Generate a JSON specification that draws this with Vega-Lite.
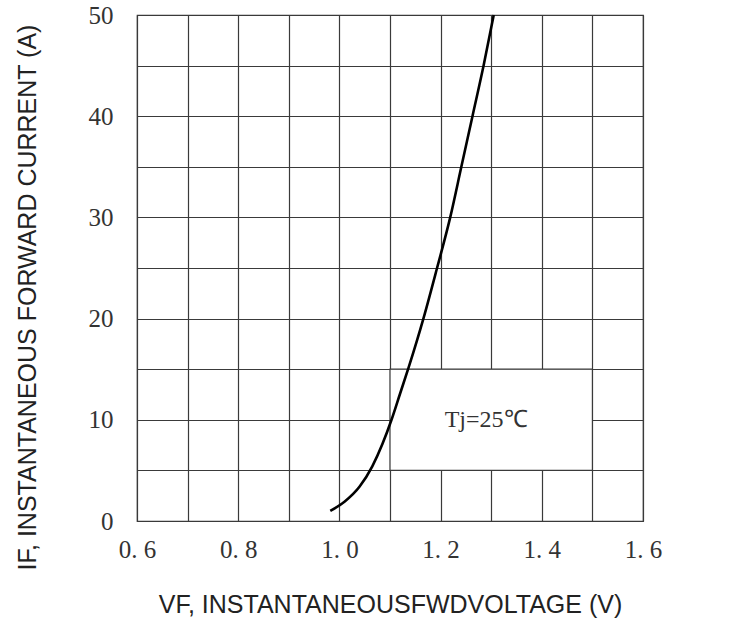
{
  "$schema": "https://vega.github.io/schema/vega-lite/v6.json",
  "width": 506,
  "height": 506,
  "padding": {"left": 137, "top": 15, "right": 104, "bottom": 103},
  "autosize": {"type": "none"},
  "background": "white",
  "config": {
    "view": {"stroke": "#3a3a3a", "strokeWidth": 1.2},
    "axis": {"domain": false, "ticks": false, "gridColor": "#3a3a3a", "gridOpacity": 1, "gridWidth": 1.2}
  },
  "datasets": {
    "curve": [
      {"v": 0.982, "i": 1.0},
      {"v": 1.010, "i": 1.9},
      {"v": 1.040, "i": 3.4},
      {"v": 1.065, "i": 5.4},
      {"v": 1.085, "i": 7.6},
      {"v": 1.103, "i": 10.0},
      {"v": 1.120, "i": 12.6},
      {"v": 1.137, "i": 15.2},
      {"v": 1.166, "i": 20.0},
      {"v": 1.193, "i": 25.0},
      {"v": 1.219, "i": 30.0},
      {"v": 1.241, "i": 35.0},
      {"v": 1.263, "i": 40.0},
      {"v": 1.285, "i": 45.0},
      {"v": 1.305, "i": 50.0}
    ],
    "box": [{"v1": 1.1, "v2": 1.5, "i1": 5, "i2": 15}],
    "note": [{"v": 1.29, "i": 10, "t": "Tj=25℃"}]
  },
  "layer": [
    {
      "data": {"name": "box"},
      "mark": {"type": "rect", "fill": "white", "stroke": "#3a3a3a", "strokeWidth": 1.2},
      "encoding": {
        "x": {"field": "v1", "type": "quantitative", "scale": {"domain": [0.6, 1.6]},
          "axis": {
            "values": [0.6, 0.7, 0.8, 0.9, 1.0, 1.1, 1.2, 1.3, 1.4, 1.5, 1.6],
            "labelExpr": "round(datum.value*10) % 2 == 0 ? replace(format(datum.value, '.1f'), '.', '. ') : ''",
            "labelFont": "Liberation Serif", "labelFontSize": 25, "labelColor": "#333", "labelPadding": 16,
            "labelFlush": false, "labelDx": -6,
            "title": "VF, INSTANTANEOUSFWDVOLTAGE (V)", "titleFont": "Liberation Sans", "titleFontSize": 25,
            "titleFontWeight": "normal", "titleColor": "#222", "titlePadding": 30
          }},
        "x2": {"field": "v2"},
        "y": {"field": "i1", "type": "quantitative", "scale": {"domain": [0, 50]},
          "axis": {
            "values": [0, 5, 10, 15, 20, 25, 30, 35, 40, 45, 50],
            "labelExpr": "datum.value % 10 == 0 ? datum.label : ''",
            "labelFont": "Liberation Serif", "labelFontSize": 25, "labelColor": "#333", "labelPadding": 24,
            "title": "IF, INSTANTANEOUS FORWARD CURRENT (A)", "titleFont": "Liberation Sans", "titleFontSize": 25,
            "titleFontWeight": "normal", "titleColor": "#222", "titleX": -97, "titleY": 282
          }},
        "y2": {"field": "i2"}
      }
    },
    {
      "data": {"name": "curve"},
      "mark": {"type": "line", "color": "black", "strokeWidth": 2.6, "interpolate": "monotone"},
      "encoding": {
        "x": {"field": "v", "type": "quantitative"},
        "y": {"field": "i", "type": "quantitative"}
      }
    },
    {
      "data": {"name": "note"},
      "mark": {"type": "text", "font": "Liberation Serif", "fontSize": 24, "color": "#333"},
      "encoding": {
        "x": {"field": "v", "type": "quantitative"},
        "y": {"field": "i", "type": "quantitative"},
        "text": {"field": "t"}
      }
    }
  ]
}
